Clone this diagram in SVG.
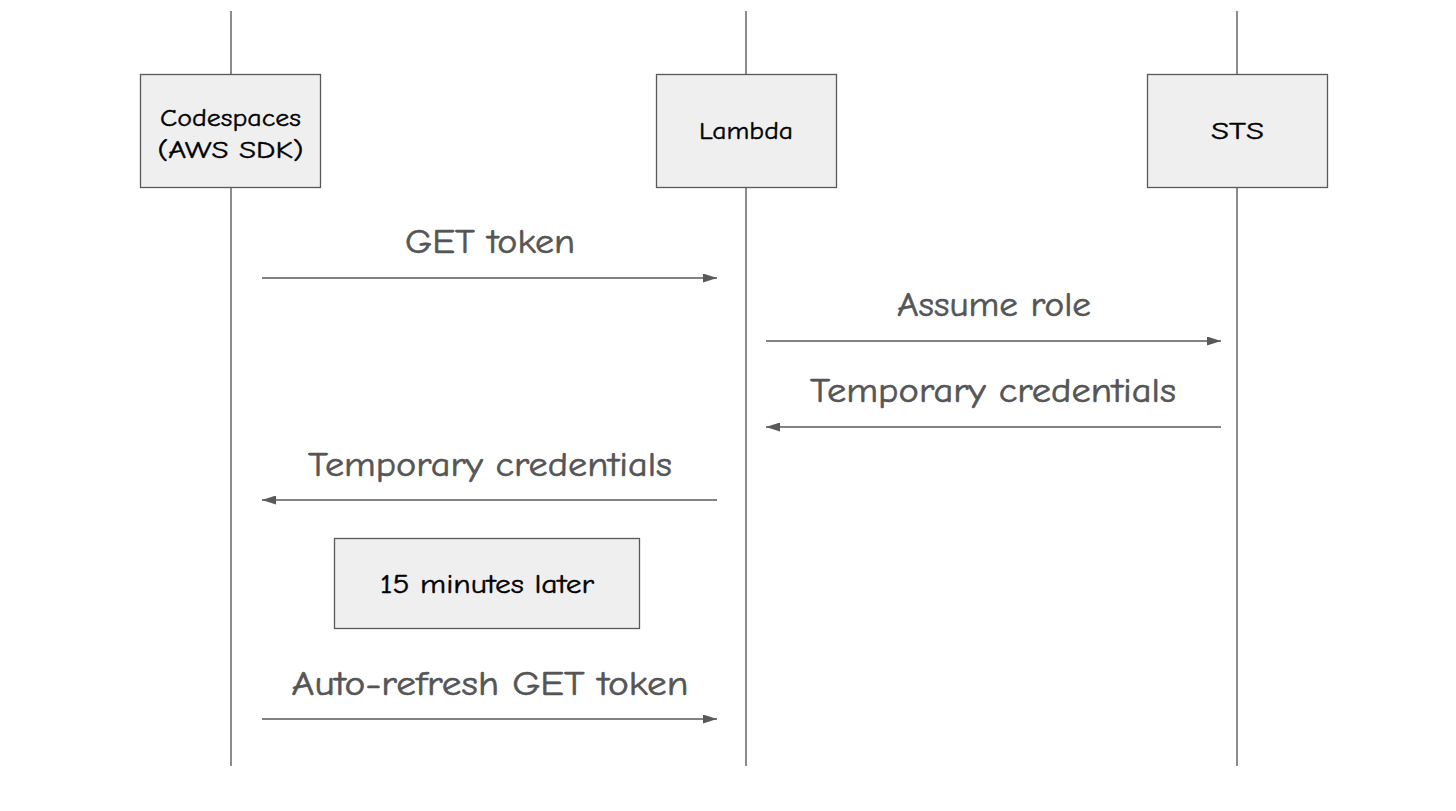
<svg xmlns="http://www.w3.org/2000/svg" width="1456" height="811" viewBox="0 0 1456 811">
<style>
.life{stroke:#666;stroke-width:1.5;fill:none}
.box{fill:#efefef;stroke:#595959;stroke-width:1.3}
.msg{stroke:#595959;stroke-width:1.5;fill:none}
.lbl{font-family:"Comic Neue","Comic Sans MS","Open Sans","Liberation Sans",sans-serif;font-size:35px;fill:#555;stroke:#555;stroke-width:0.6;text-anchor:middle}
.nt{font-family:"Comic Neue","Comic Sans MS","Open Sans","Liberation Sans",sans-serif;font-size:24px;fill:#000;stroke:#000;stroke-width:0.4;text-anchor:middle}
</style>
<defs>
<marker id="ah" viewBox="0 0 14 9" refX="14" refY="4.5" markerWidth="14" markerHeight="9" markerUnits="userSpaceOnUse" orient="auto">
<path d="M0,0 L14,4.5 L0,9 Z" fill="#595959"/>
</marker>
</defs>
<rect width="1456" height="811" fill="#fff"/>
<g id="lifelines">
<line class="life" x1="231" y1="11" x2="231" y2="766"/>
<line class="life" x1="746" y1="11" x2="746" y2="766"/>
<line class="life" x1="1237" y1="11" x2="1237" y2="766"/>
</g>
<g id="codespaces">
<rect class="box" x="140.5" y="74.5" width="180" height="113"/>
<text class="nt" x="230.5" y="126" textLength="141" lengthAdjust="spacingAndGlyphs">Codespaces</text>
<text class="nt" x="230.5" y="158" textLength="146" lengthAdjust="spacingAndGlyphs">(AWS SDK)</text>
</g>
<g id="lambda">
<rect class="box" x="656.5" y="74.5" width="180" height="113"/>
<text class="nt" x="746" y="139" textLength="94" lengthAdjust="spacingAndGlyphs">Lambda</text>
</g>
<g id="sts">
<rect class="box" x="1147.5" y="74.5" width="180" height="113"/>
<text class="nt" x="1237.5" y="139" textLength="53" lengthAdjust="spacingAndGlyphs">STS</text>
</g>
<g id="delay">
<rect class="box" x="334.5" y="538.5" width="305" height="90"/>
<text class="nt" x="487" y="593" style="font-size:26px" textLength="214" lengthAdjust="spacingAndGlyphs">15 minutes later</text>
</g>
<g id="connectors">
<line class="msg" x1="262" y1="278" x2="717" y2="278" marker-end="url(#ah)"/>
<line class="msg" x1="766" y1="341" x2="1221" y2="341" marker-end="url(#ah)"/>
<line class="msg" x1="1221" y1="427" x2="766" y2="427" marker-end="url(#ah)"/>
<line class="msg" x1="717" y1="500" x2="262" y2="500" marker-end="url(#ah)"/>
<line class="msg" x1="262" y1="719" x2="717" y2="719" marker-end="url(#ah)"/>
<text class="lbl" x="490" y="253" textLength="170" lengthAdjust="spacingAndGlyphs">GET token</text>
<text class="lbl" x="994" y="316" textLength="194" lengthAdjust="spacingAndGlyphs">Assume role</text>
<text class="lbl" x="993" y="402" textLength="366" lengthAdjust="spacingAndGlyphs">Temporary credentials</text>
<text class="lbl" x="490" y="476" textLength="364" lengthAdjust="spacingAndGlyphs">Temporary credentials</text>
<text class="lbl" x="490" y="695" textLength="397" lengthAdjust="spacingAndGlyphs">Auto-refresh GET token</text>
</g>
</svg>
